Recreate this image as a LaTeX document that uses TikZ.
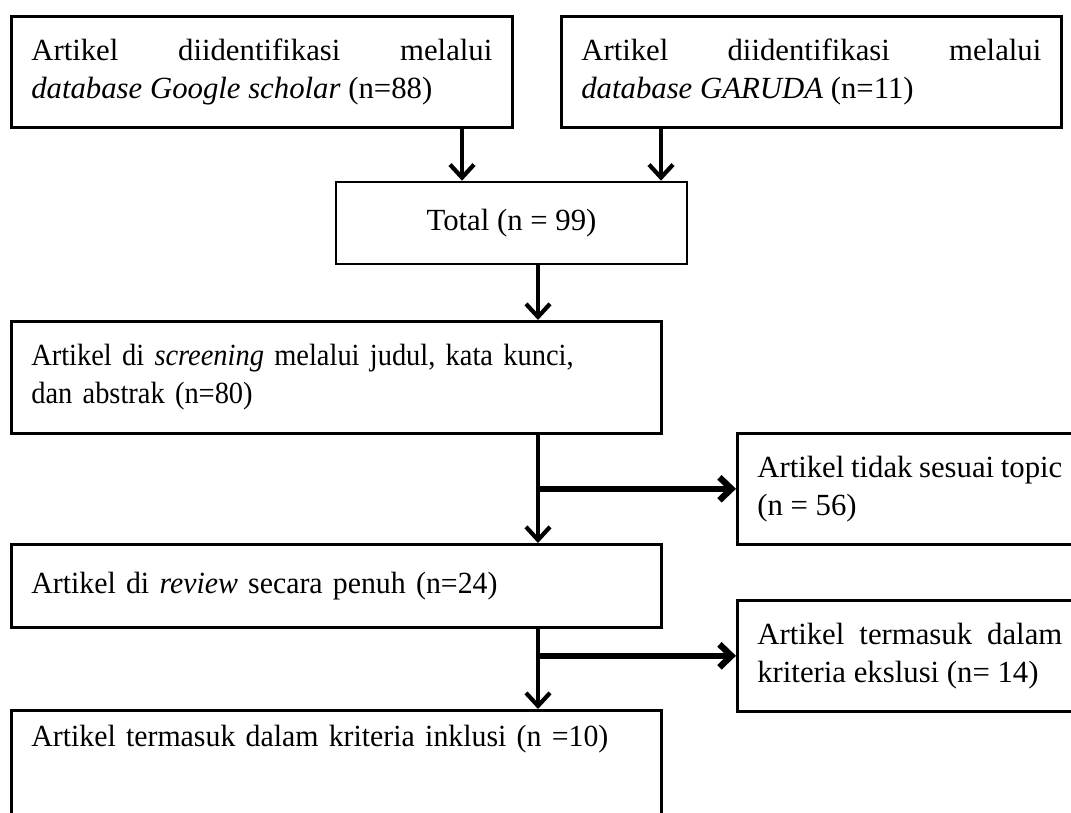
\documentclass[tikz,border=0pt]{standalone}
\usepackage{fontspec}
\setmainfont{Liberation Serif}
\newfontfamily\narrowserif{Liberation Serif}[FakeStretch=0.925]
\newfontfamily\slimserif{Liberation Serif}[FakeStretch=0.97]
\usepackage{tikz}
\usetikzlibrary{calc,positioning,arrows.meta}

\begin{document}
\begin{tikzpicture}[
    font=\fontsize{17.5}{21.5}\selectfont,
    box/.style={rectangle, draw=black, line width=1.5pt, anchor=north west, inner xsep=0.4cm, inner ysep=0.3cm, fill=white},
    flow/.style={line width=2.4pt, -{Straight Barb[length=2.6mm,width=4.8mm]}},
    branch/.style={line width=3.6pt, -{Straight Barb[length=2.4mm,width=4.6mm]}}
]
\useasboundingbox (0,0) rectangle (21.42,16.24);
\clip (0,0) rectangle (21.42,16.24);

\node[box, text width=9.22cm, minimum height=2.22cm, align=justify] (Google) at (0.2,15.94)
  {Artikel diidentifikasi melalui\linebreak \textit{database Google scholar} (n=88)};
\node[box, text width=9.2cm, minimum height=2.22cm, align=justify] (Garuda) at (11.2,15.94)
  {Artikel diidentifikasi melalui\linebreak \textit{database GARUDA} (n=11)};

\node[box, anchor=center, minimum width=7.02cm, minimum height=1.64cm, align=center] (Total) at (10.23,11.78)
  {Total (n = 99)};

\node[box, text width=12.2cm, minimum height=2.24cm, align=left] (Screening) at (0.2,9.84)
  {\narrowserif Artikel di \textit{screening} melalui judul, kata kunci,\\ dan abstrak (n=80)};
\node[box, text width=6.1cm, minimum height=2.22cm, align=justify] (NotTopic) at (14.72,7.6)
  {Artikel tidak sesuai topic\linebreak (n = 56)};

\node[box, text width=12.2cm, minimum height=1.66cm, align=left] (Review) at (0.2,5.38)
  {\slimserif Artikel di \textit{review} secara penuh (n=24)};
\node[box, text width=6.1cm, minimum height=2.22cm, align=justify] (Exclusion) at (14.72,4.26)
  {Artikel termasuk dalam\linebreak kriteria ekslusi (n= 14)};

\node[box, text width=12.2cm, text depth=1.9cm, align=left] (Inclusion) at (0.2,2.06)
  {\slimserif Artikel termasuk dalam kriteria inklusi (n =10)};

\coordinate (colA) at (9.24,0);
\coordinate (colB) at (13.22,0);
\coordinate (main) at (10.76,0);

\draw[flow] (Google.south -| colA) -- (Total.north -| colA);
\draw[flow] (Garuda.south -| colB) -- (Total.north -| colB);
\draw[flow] (Total.south -| main) -- (Screening.north -| main);
\draw[flow] (Screening.south -| main) -- (Review.north -| main);
\draw[branch] (main |- NotTopic.west) -- (NotTopic.west);
\draw[flow] (Review.south -| main) -- (Inclusion.north -| main);
\draw[branch] (main |- Exclusion.west) -- (Exclusion.west);
\end{tikzpicture}
\end{document}
